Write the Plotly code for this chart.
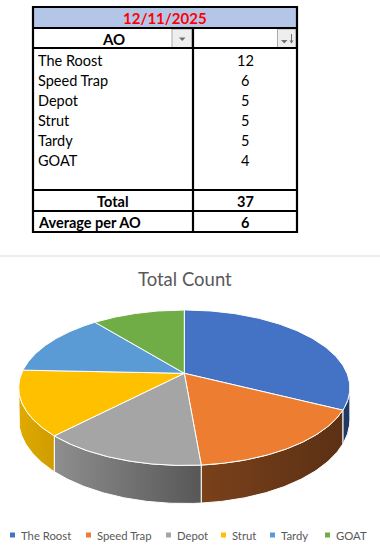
import numpy as np
import plotly.graph_objects as go

# ---------------- data ----------------
report_date = "12/11/2025"
aos = ["The Roost", "Speed Trap", "Depot", "Strut", "Tardy", "GOAT"]
counts = [12, 6, 5, 5, 5, 4]
chart_title = "Total Count"
top_colors = ["#4472C4", "#ED7D31", "#A5A5A5", "#FFC000", "#5B9BD5", "#70AD47"]
side_colors = [("#1F3864", "#1F3864"), ("#7A411A", "#5B3015"), ("#8E8E8E", "#575757"),
               ("#DFAA00", "#CF9C00"), ("#3B6EA0", "#3B6EA0"), ("#4E7A31", "#4E7A31")]

total = sum(counts)
average = round(total / len(aos))

W, H = 380, 548
FONT = "Lato, 'Open Sans', sans-serif"
fig = go.Figure()

# ---------------- 3D pie (projected disk) ----------------
CX, CY = 184.3, 373.3      # centre of the disk on screen
A, B, K = 162.7, 75.05, 0.1856   # horizontal / vertical radius and perspective
D0 = 31.0                  # thickness


def proj(theta, drop=0.0):
    s = 1 + K * np.cos(theta)
    return CX + A * np.sin(theta) / s, CY + (-B * np.cos(theta) + drop) / s


edges = np.concatenate([[0.0], np.cumsum(counts) / total]) * 2 * np.pi
ta = np.arccos(-K)
tb = 2 * np.pi - ta

# sides (front, visible part)
for i in range(len(counts)):
    t1, t2 = max(edges[i], ta), min(edges[i + 1], tb)
    if t2 <= t1:
        continue
    ts = np.linspace(t1, t2, 80)
    xt, yt = proj(ts)
    xb, yb = proj(ts[::-1], D0)
    xs = np.concatenate([xt, xb, xt[:1]])
    ys = np.concatenate([yt, yb, yt[:1]])
    c1, c2 = side_colors[i]
    fig.add_trace(go.Scatter(
        x=xs, y=ys, mode="lines", fill="toself",
        line=dict(color="white", width=1),
        fillgradient=dict(type="horizontal", colorscale=[[0, c1], [1, c2]]),
        hoverinfo="skip", showlegend=False))

# top faces
for i in range(len(counts)):
    ts = np.linspace(edges[i], edges[i + 1], 120)
    xa, ya = proj(ts)
    xs = np.concatenate([[CX], xa, [CX]])
    ys = np.concatenate([[CY], ya, [CY]])
    fig.add_trace(go.Scatter(
        x=xs, y=ys, mode="lines", fill="toself", fillcolor=top_colors[i],
        line=dict(color="white", width=1), name=aos[i],
        text=[f"{aos[i]}: {counts[i]}"] * len(xs), hoverinfo="text",
        showlegend=False))

shapes = []
ann = []

# ---------------- table ----------------
TL, TR, TD = 33, 297, 193      # left, right, column divider
y_top, y_hdr, y_body, y_tot, y_avg, y_bot = 7, 28, 48, 190, 211, 232
row_y = [60, 80, 100, 120, 140, 160]
BL = dict(color="black", width=2.2)

shapes.append(dict(type="rect", x0=TL, x1=TR, y0=y_top, y1=y_hdr, fillcolor="#B4C6E7",
                   line=dict(width=0), layer="below"))
# dropdown buttons
for bx0, bx1 in [(172, 192), (277.5, 296)]:
    shapes.append(dict(type="rect", x0=bx0, x1=bx1, y0=29, y1=47.5,
                       fillcolor="#EEEEEE", line=dict(color="#ABABAB", width=1)))
shapes.append(dict(type="path", path="M 179 37.5 L 185.5 37.5 L 182.25 41 Z",
                   fillcolor="#6E6E6E", line=dict(width=0)))
shapes.append(dict(type="path", path="M 281 40 L 287.5 40 L 284.25 43.5 Z",
                   fillcolor="#6E6E6E", line=dict(width=0)))
shapes.append(dict(type="line", x0=291.5, x1=291.5, y0=34, y1=43,
                   line=dict(color="#6E6E6E", width=1)))
shapes.append(dict(type="path", path="M 289.5 40.5 L 293.5 40.5 L 291.5 43.5 Z",
                   fillcolor="#6E6E6E", line=dict(width=0)))

for yy in [y_hdr, y_body, y_tot, y_avg]:
    shapes.append(dict(type="line", x0=TL, x1=TR, y0=yy, y1=yy, line=BL))
shapes.append(dict(type="line", x0=TD, x1=TD, y0=y_hdr, y1=y_bot, line=BL))
shapes.append(dict(type="rect", x0=TL, x1=TR, y0=y_top, y1=y_bot, line=BL))

ann.append(dict(x=(TL + TR) / 2, y=(y_top + y_hdr) / 2 + 0.5, text=f"<b>{report_date}</b>",
                font=dict(family=FONT, size=15, color="#FF0000")))
ann.append(dict(x=113, y=(y_hdr + y_body) / 2 + 0.5, text="<b>AO</b>",
                font=dict(family=FONT, size=15, color="black")))
for name, val, yy in zip(aos, counts, row_y):
    ann.append(dict(x=36, y=yy, text=name, xanchor="left",
                    font=dict(family=FONT, size=14.5, color="black")))
    ann.append(dict(x=(TD + TR) / 2, y=yy, text=str(val),
                    font=dict(family=FONT, size=14.5, color="black")))
ann.append(dict(x=113, y=(y_tot + y_avg) / 2 + 0.5, text="<b>Total</b>",
                font=dict(family=FONT, size=14.5, color="black")))
ann.append(dict(x=(TD + TR) / 2, y=(y_tot + y_avg) / 2 + 0.5, text=f"<b>{total}</b>",
                font=dict(family=FONT, size=14.5, color="black")))
ann.append(dict(x=36, y=(y_avg + y_bot) / 2 + 0.5, text="<b>Average per AO</b>", xanchor="left",
                font=dict(family=FONT, size=14.5, color="black")))
ann.append(dict(x=(TD + TR) / 2, y=(y_avg + y_bot) / 2 + 0.5, text=f"<b>{average}</b>",
                font=dict(family=FONT, size=14.5, color="black")))

# separator line
shapes.append(dict(type="line", x0=0, x1=W, y0=256, y1=256,
                   line=dict(color="#D9D9D9", width=1)))

# ---------------- chart title ----------------
ann.append(dict(x=185, y=279, text=chart_title,
                font=dict(family=FONT, size=18.5, color="#595959")))

# ---------------- legend ----------------
legend_x = [12.5, 88.5, 168.5, 223.5, 272.5, 327.5]
LY = 535
for name, col, lx in zip(aos, top_colors, legend_x):
    shapes.append(dict(type="rect", x0=lx - 2.5, x1=lx + 2.5, y0=LY - 2.5, y1=LY + 2.5,
                       fillcolor=col, line=dict(width=0)))
    ann.append(dict(x=lx + 6, y=LY, text=name, xanchor="left",
                    font=dict(family=FONT, size=11.3, color="#595959")))

for a in ann:
    a.setdefault("xanchor", "center")
    a.update(xref="x", yref="y", yanchor="middle", showarrow=False)

fig.update_layout(
    width=W, height=H, margin=dict(l=0, r=0, t=0, b=0),
    paper_bgcolor="white", plot_bgcolor="white", showlegend=False,
    xaxis=dict(range=[0, W], visible=False, fixedrange=True),
    yaxis=dict(range=[H, 0], visible=False, fixedrange=True),
    shapes=shapes, annotations=ann,
)

fig.write_html("out.html", config={"displayModeBar": False},
               post_script="document.body.style.margin='0';")
